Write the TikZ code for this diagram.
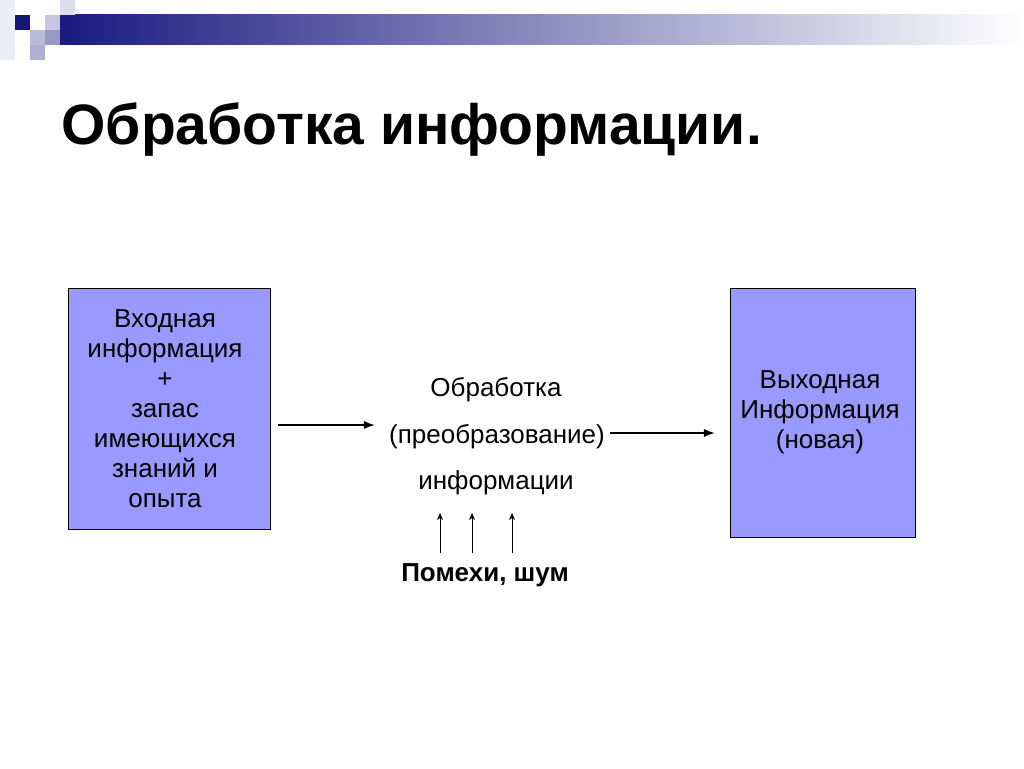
\documentclass[tikz,border=0pt]{standalone}
\usepackage{fontspec}
\setmainfont{Liberation Sans}
\usetikzlibrary{arrows.meta, positioning}
\definecolor{boxfill}{HTML}{9999FF}
\definecolor{navy}{HTML}{1A1A80}

\begin{document}
\begin{tikzpicture}[x=1pt, y=-1pt, >=Latex]
				\tikzstyle{blk} = [draw=black, fill=boxfill, inner sep=0pt]
				\tikzstyle{txt} = [font=\fontsize{26}{30}\selectfont, align=center]
				\tikzstyle{noise} = [->, >={Stealth[length=7pt, width=6pt]}, line width=0.8pt]
				
				\useasboundingbox (0,0) rectangle (1024,768);
				% decoration
				\shade[left color=navy, right color=white] (60,15) rectangle (1024,45);
				\fill[navy!90!black] (15,15) rectangle (30,30);
				\fill[navy!25] (45,15) rectangle (60,30);
				\fill[navy!15] (60,0) rectangle (75,15);
				\fill[navy!30] (30,30) rectangle (45,45);
				\fill[navy!45] (45,30) rectangle (60,45);
				\fill[navy!35] (30,45) rectangle (45,60);
				\fill[navy!8] (0,0) rectangle (15,60);
				
				\node[anchor=west, font=\fontsize{57}{60}\selectfont\bfseries] at (58,130) (title) {Обработка информации.};
				
				\node[blk, minimum width=202, minimum height=241] at (169,408.5) (inp) {};
				\node[txt] at (165,409) (inptxt) {Входная\\информация\\+\\запас\\имеющихся\\знаний и\\опыта};
				\node[blk, minimum width=185, minimum height=249] at (822.5,412.5) (out) {};
				\node[txt] at (820,412) (outtxt) {Выходная\\Информация\\(новая)};
				
				\node[txt] at (496,390) (p1) {Обработка};
				\node[txt] at (497,437) (p2) {(преобразование)};
				\node[txt] at (496,483) (p3) {информации};
				\node[font=\fontsize{26}{30}\selectfont\bfseries] at (485,575) (noise) {Помехи, шум};
				
				\coordinate (a1) at (278,425);
				\coordinate (a2) at (375,425);
				\coordinate (b1) at (610,433);
				\coordinate (b2) at (715,433);
				\draw[->, line width=1.8pt] (a1) -- (a2);
				\draw[->, line width=1.8pt] (b1) -- (b2);
				\foreach \x in {440,472,512} {
					\coordinate (n\x) at (\x,553);
					\coordinate (m\x) at (\x,513);
					\draw[noise] (n\x) -- (m\x);
				}
			\end{tikzpicture}
\end{document}
